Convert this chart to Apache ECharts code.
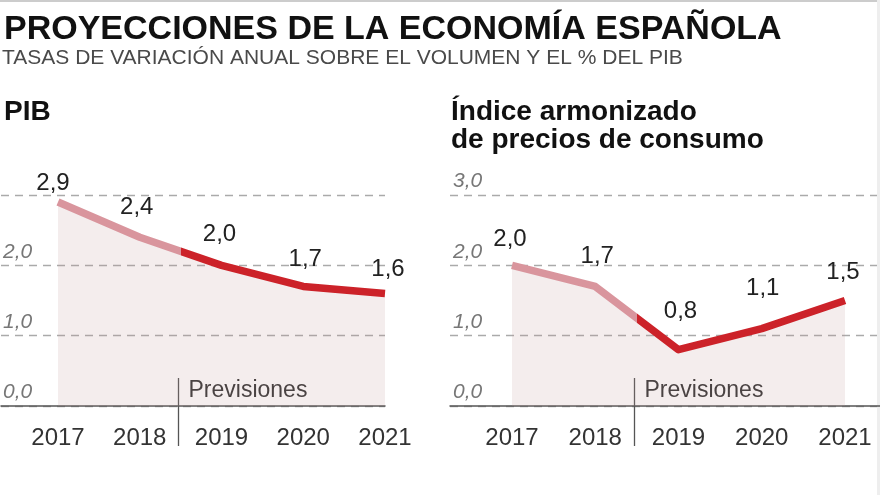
<!DOCTYPE html>
<html><head><meta charset="utf-8">
<script src="https://cdn.jsdelivr.net/npm/echarts@6/dist/echarts.min.js"></script>
<style>html,body{margin:0;padding:0;background:#fff}#c{width:880px;height:495px}</style>
</head><body><div id="c"></div>
<script>
const years = ['2017', '2018', '2019', '2020', '2021'];
const pibValues = [2.9, 2.4, 2.0, 1.7, 1.6];
const ipcValues = [2.0, 1.7, 0.8, 1.1, 1.5];
const pibTickLabels = ['0,0', '1,0', '2,0', ''];
const ipcTickLabels = ['0,0', '1,0', '2,0', '3,0'];
const forecastFrom = ['2018', '2019']; // forecasts start between these categories
const titleText = 'PROYECCIONES DE LA ECONOMÍA ESPAÑOLA';
const subtitleText = 'TASAS DE VARIACIÓN ANUAL SOBRE EL VOLUMEN Y EL % DEL PIB';
const pibTitle = 'PIB';
const ipcTitleLines = ['Índice armonizado', 'de precios de consumo'];
const forecastLabel = 'Previsiones';

// label nudges (style only, px)
const pibLabelNudge = [[-5, 11], [-3, 0], [-2, -1], [2, 2], [3, 5]];
const ipcLabelNudge = [[-2, 4], [2, -1], [2, -9], [1, -11], [-2, 1]];

const FONT = '"Liberation Sans", Arial, sans-serif';
const PINK = '#d9959d', RED = '#cc2229';
const fmt = v => v.toFixed(1).replace('.', ',');

const chart = echarts.init(document.getElementById('c'), null, {renderer: 'canvas'});

function baseX(gi) {
  return {gridIndex: gi, type: 'value', min: 0, max: 1, axisLine: {show: true, lineStyle: {color: '#555', width: 1.5}},
    axisTick: {show: false}, axisLabel: {show: false}, splitLine: {show: false}};
}
function catX(gi) {
  return {gridIndex: gi, type: 'category', data: years, boundaryGap: false, axisLine: {show: false}, axisTick: {show: false},
    splitLine: {show: false},
    axisLabel: {fontFamily: FONT, fontSize: 24, color: '#333', margin: 20}};
}
function gridY(gi, labels, margin) {
  return {gridIndex: gi, type: 'value', min: 0, max: 3, interval: 1, axisLine: {show: false}, axisTick: {show: false},
    splitLine: {show: true, lineStyle: {color: '#aaa', width: 1.3, type: [8, 6]}},
    axisLabel: {inside: true, margin: margin, verticalAlign: 'bottom', padding: [0, 0, 3, 0], fontFamily: FONT, fontStyle: 'italic', fontSize: 21, color: '#777',
      formatter: v => labels[Math.round(v)]}};
}
function hiddenY(gi) {
  return {gridIndex: gi, type: 'value', min: 0, max: 3, interval: 1, show: false, splitLine: {show: false}};
}
function lineSeries(xi, values, nudges) {
  return {type: 'line', xAxisIndex: xi, yAxisIndex: xi,
    data: values.map((v, i) => ({value: v, label: {offset: nudges[i]}})),
    symbol: 'circle', symbolSize: 1, showSymbol: true,
    itemStyle: {color: 'rgba(0,0,0,0)'},
    lineStyle: {width: 7.5, join: 'round', color: RED}, areaStyle: {color: 'rgba(190,150,150,0.17)', opacity: 1},
    label: {show: true, position: 'top', distance: 17, fontFamily: FONT, fontSize: 24, color: '#222', formatter: p => fmt(p.value)},
    emphasis: {disabled: true}, silent: true, animation: false};
}

const gridTop = 195, gridHeight = 211;
chart.setOption({
  animation: false,
  backgroundColor: '#fff',
  grid: [
    {left: 0, width: 385, top: gridTop, height: gridHeight},
    {left: 58, width: 327, top: gridTop, height: gridHeight},
    {left: 450, right: 0, top: gridTop, height: gridHeight},
    {left: 512, width: 333, top: gridTop, height: gridHeight}
  ],
  xAxis: [baseX(0), catX(1), baseX(2), catX(3)],
  yAxis: [gridY(0, pibTickLabels, 2), hiddenY(1), gridY(2, ipcTickLabels, 3), hiddenY(3)],
  series: [lineSeries(1, pibValues, pibLabelNudge), lineSeries(3, ipcValues, ipcLabelNudge)]
});

function splitX(xi) {
  const a = chart.convertToPixel({xAxisIndex: xi}, forecastFrom[0]);
  const b = chart.convertToPixel({xAxisIndex: xi}, forecastFrom[1]);
  return (a + b) / 2;
}
function lineGradient(xi) {
  const first = chart.convertToPixel({xAxisIndex: xi}, years[0]);
  const last = chart.convertToPixel({xAxisIndex: xi}, years[years.length - 1]);
  const t = (splitX(xi) - first) / (last - first);
  return new echarts.graphic.LinearGradient(first, 0, last, 0,
    [{offset: 0, color: PINK}, {offset: t, color: PINK}, {offset: t, color: RED}, {offset: 1, color: RED}], true);
}
function forecastMark(xi) {
  const y0 = chart.convertToPixel({yAxisIndex: xi}, 0);
  const x = Math.round(splitX(xi)) - 2.5;
  return [
    {type: 'line', shape: {x1: x, y1: y0 - 28, x2: x, y2: y0 + 40}, style: {stroke: '#555', lineWidth: 1.3}, silent: true},
    {type: 'text', x: x + 10, y: y0 - 15, style: {text: forecastLabel, font: '23px ' + FONT, fill: '#333', verticalAlign: 'middle'}, silent: true}
  ];
}

chart.setOption({
  series: [{lineStyle: {color: lineGradient(1)}}, {lineStyle: {color: lineGradient(3)}}],
  graphic: [
    {type: 'rect', shape: {x: 0, y: 0, width: 880, height: 2}, style: {fill: '#ccc'}, silent: true},
    {type: 'rect', shape: {x: 877, y: 0, width: 3, height: 495}, style: {fill: '#eee'}, silent: true},
    {type: 'text', x: 4, y: 30, style: {text: titleText, font: 'bold 34px ' + FONT, fill: '#111', verticalAlign: 'middle'}},
    {type: 'text', x: 2, y: 58, style: {text: subtitleText, font: '21px ' + FONT, fill: '#4a4a4a', verticalAlign: 'middle'}},
    {type: 'text', x: 4, y: 112.5, style: {text: pibTitle, font: 'bold 28px ' + FONT, fill: '#111', verticalAlign: 'middle'}},
    {type: 'text', x: 451, y: 112.5, style: {text: ipcTitleLines[0], font: 'bold 28px ' + FONT, fill: '#111', verticalAlign: 'middle'}},
    {type: 'text', x: 451, y: 140.5, style: {text: ipcTitleLines[1], font: 'bold 28px ' + FONT, fill: '#111', verticalAlign: 'middle'}},
    ...forecastMark(1),
    ...forecastMark(3)
  ]
});
</script>
</body></html>
